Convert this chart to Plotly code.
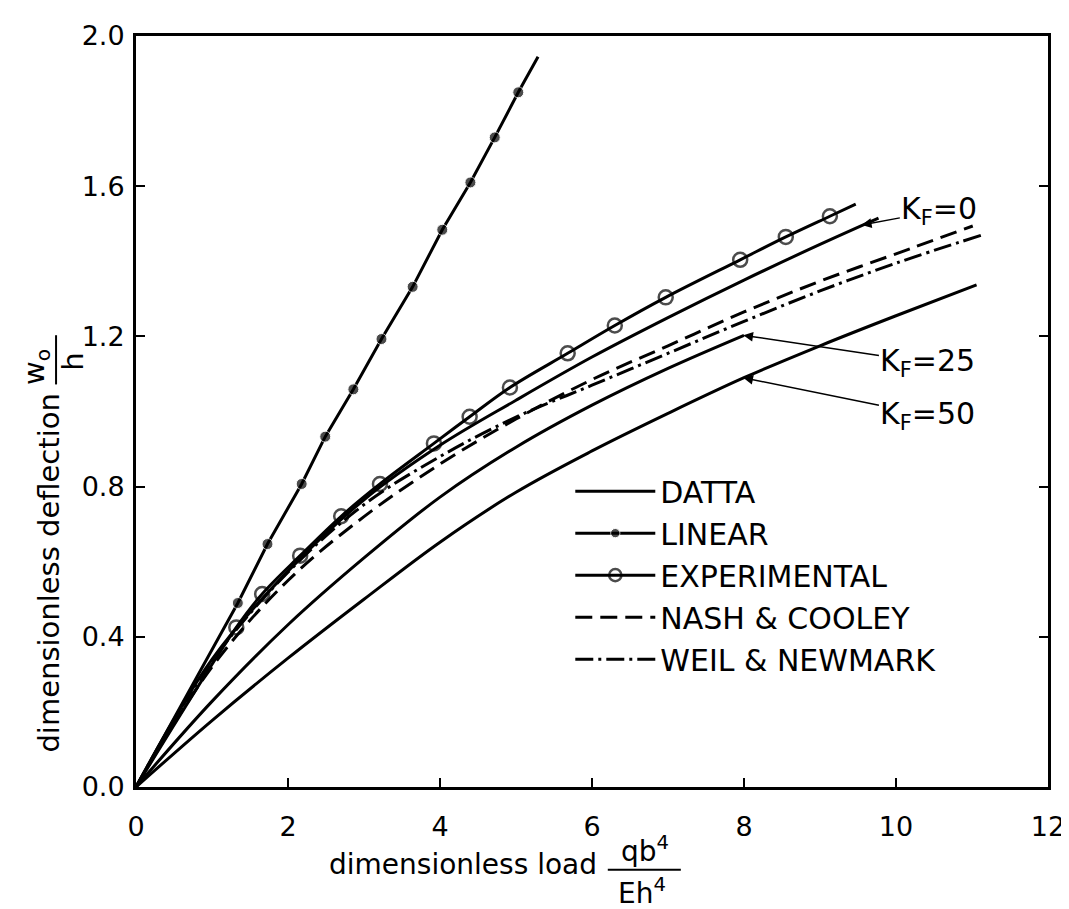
import plotly.graph_objects as go

# ---------------- data ----------------
x_ticks = [0, 2, 4, 6, 8, 10, 12]
y_ticks = [0.0, 0.4, 0.8, 1.2, 1.6, 2.0]

# LINEAR (filled dots) + line end points
lin_x = [1.34, 1.73, 2.18, 2.49, 2.86, 3.23, 3.64, 4.03, 4.40, 4.72, 5.03]
lin_y = [0.49, 0.647, 0.807, 0.933, 1.059, 1.193, 1.332, 1.484, 1.61, 1.73, 1.85]
lin_start = (0.0, 0.0)
lin_end = (5.29, 1.945)

# EXPERIMENTAL (open circles) + line end points
exp_x = [1.32, 1.66, 2.16, 2.70, 3.21, 3.92, 4.39, 4.92, 5.68, 6.30, 6.97, 7.95, 8.55, 9.13]
exp_y = [0.425, 0.514, 0.616, 0.721, 0.807, 0.915, 0.986, 1.064, 1.155, 1.229, 1.304, 1.404, 1.465, 1.52]
exp_start = (0.0, 0.0)
exp_end = (9.47, 1.552)

# DATTA, K_F = 0, 25, 50
d0_x = [0, 1, 2, 3, 4, 5, 6, 7, 8, 9, 9.77]
d0_y = [0, 0.34, 0.575, 0.765, 0.91, 1.03, 1.145, 1.25, 1.35, 1.445, 1.515]
d25_x = [0, 1, 2, 3, 4, 5, 6, 7, 8]
d25_y = [0, 0.228, 0.432, 0.61, 0.772, 0.905, 1.017, 1.115, 1.203]
d50_x = [0, 1, 2, 3, 4, 5, 6, 7, 8, 9, 10, 11.06]
d50_y = [0, 0.177, 0.343, 0.5, 0.652, 0.785, 0.895, 0.995, 1.09, 1.175, 1.255, 1.337]

# NASH & COOLEY (dashed)
nc_x = [0, 1, 2, 3, 4, 5, 6, 7, 8, 9, 10, 11.01]
nc_y = [0, 0.32, 0.55, 0.72, 0.86, 0.98, 1.085, 1.175, 1.265, 1.347, 1.42, 1.494]

# WEIL & NEWMARK (dash-dot)
wn_x = [0, 1, 2, 3, 4, 5, 6, 7, 8, 9, 10, 11.13]
wn_y = [0, 0.335, 0.572, 0.752, 0.88, 0.985, 1.07, 1.155, 1.24, 1.321, 1.395, 1.47]

# K_F labels: (text position) -> (arrow tip on curve)
kf_labels = ["K<sub>F</sub>=0", "K<sub>F</sub>=25", "K<sub>F</sub>=50"]
kf_text_x = [10.57, 10.42, 10.42]
kf_text_y = [1.535, 1.13, 0.99]
kf_tip_x = [9.55, 7.99, 7.99]
kf_tip_y = [1.497, 1.203, 1.090]

legend_names = ["DATTA", "LINEAR", "EXPERIMENTAL", "NASH &amp; COOLEY", "WEIL &amp; NEWMARK"]

# ---------------- figure ----------------
FONT = "DejaVu Sans"
BLACK = "#000000"
LW = 3
L, R, T, B = 128, 17, 16, 130
PW, PH = 1069 - L - R, 909 - T - B


def px(xp):
    return (xp - L) / PW


def py(yp):
    return (909 - B - yp) / PH


fig = go.Figure()

# DATTA curves
fig.add_trace(go.Scatter(x=d0_x, y=d0_y, mode="lines", name=legend_names[0],
                         line=dict(color=BLACK, width=LW, shape="spline")))
fig.add_trace(go.Scatter(x=d25_x, y=d25_y, mode="lines", showlegend=False,
                         line=dict(color=BLACK, width=LW, shape="spline")))
fig.add_trace(go.Scatter(x=d50_x, y=d50_y, mode="lines", showlegend=False,
                         line=dict(color=BLACK, width=LW, shape="spline")))

# LINEAR
lx = [lin_start[0]] + lin_x + [lin_end[0]]
ly = [lin_start[1]] + lin_y + [lin_end[1]]
lsz = [0] + [11] * len(lin_x) + [0]
fig.add_trace(go.Scatter(x=lx, y=ly, mode="lines+markers", name=legend_names[1],
                         line=dict(color=BLACK, width=LW),
                         marker=dict(symbol="circle", size=lsz, color=BLACK)))

# EXPERIMENTAL
ex = [exp_start[0]] + exp_x + [exp_end[0]]
ey = [exp_start[1]] + exp_y + [exp_end[1]]
esz = [0] + [14] * len(exp_x) + [0]
fig.add_trace(go.Scatter(x=ex, y=ey, mode="lines+markers", name=legend_names[2],
                         line=dict(color=BLACK, width=LW, shape="spline"),
                         marker=dict(symbol="circle-open", size=esz, color=BLACK,
                                     line=dict(width=2.5, color=BLACK))))

# NASH & COOLEY
fig.add_trace(go.Scatter(x=nc_x, y=nc_y, mode="lines", name=legend_names[3],
                         line=dict(color=BLACK, width=LW, shape="spline", dash="17px,8px")))

# WEIL & NEWMARK
fig.add_trace(go.Scatter(x=wn_x, y=wn_y, mode="lines", name=legend_names[4],
                         line=dict(color=BLACK, width=LW, shape="spline",
                                   dash="18px,5px,3px,5px")))

# K_F annotations
for t, tx, ty, ax_, ay_ in zip(kf_labels, kf_text_x, kf_text_y, kf_tip_x, kf_tip_y):
    fig.add_annotation(x=ax_, y=ay_, xref="x", yref="y", ax=tx, ay=ty,
                       axref="x", ayref="y", text=t, showarrow=True,
                       arrowhead=2, arrowsize=1.3, arrowwidth=1.5, arrowcolor=BLACK,
                       font=dict(family=FONT, size=30, color=BLACK))

# x-axis title with fraction
fig.add_annotation(xref="paper", yref="paper", x=px(322), y=py(858),
                   xanchor="left", yanchor="middle", showarrow=False,
                   text="dimensionless load", font=dict(family=FONT, size=28, color=BLACK))
fig.add_annotation(xref="paper", yref="paper", x=px(644), y=py(842),
                   xanchor="center", yanchor="middle", showarrow=False,
                   text="qb<sup>4</sup>", font=dict(family=FONT, size=28, color=BLACK))
fig.add_annotation(xref="paper", yref="paper", x=px(641), y=py(885),
                   xanchor="center", yanchor="middle", showarrow=False,
                   text="Eh<sup>4</sup>", font=dict(family=FONT, size=28, color=BLACK))
fig.add_shape(type="line", xref="paper", yref="paper",
              x0=px(606), x1=px(680), y0=py(863), y1=py(863),
              line=dict(color=BLACK, width=2))

# y-axis title with fraction
fig.add_annotation(xref="paper", yref="paper", x=px(40), y=py(562),
                   xanchor="center", yanchor="middle", showarrow=False, textangle=-90,
                   text="dimensionless deflection", font=dict(family=FONT, size=29, color=BLACK))
fig.add_annotation(xref="paper", yref="paper", x=px(26), y=py(352),
                   xanchor="center", yanchor="middle", showarrow=False, textangle=-90,
                   text="w<sub>o</sub>", font=dict(family=FONT, size=29, color=BLACK))
fig.add_annotation(xref="paper", yref="paper", x=px(64), y=py(347),
                   xanchor="center", yanchor="middle", showarrow=False, textangle=-90,
                   text="h", font=dict(family=FONT, size=29, color=BLACK))
fig.add_shape(type="line", xref="paper", yref="paper",
              x0=px(47), x1=px(47), y0=py(320), y1=py(370),
              line=dict(color=BLACK, width=2))

fig.update_layout(
    width=1069, height=909,
    margin=dict(l=L, r=R, t=T, b=B),
    paper_bgcolor="white", plot_bgcolor="white",
    font=dict(family=FONT, color=BLACK),
    showlegend=True,
    legend=dict(x=px(568), y=py(452), xanchor="left", yanchor="top",
                bgcolor="rgba(0,0,0,0)", borderwidth=0, itemwidth=80,
                traceorder="normal",
                font=dict(family=FONT, size=30, color=BLACK)),
)

fig.update_xaxes(range=[0, 12], tickvals=x_ticks, ticktext=[str(v) for v in x_ticks],
                 showgrid=False, zeroline=False, showline=True, linecolor=BLACK, linewidth=3,
                 mirror=True, ticks="inside", ticklen=9, tickwidth=2, tickcolor=BLACK,
                 ticklabelstandoff=14, ticklabeloverflow="allow",
                 tickfont=dict(family=FONT, size=27, color=BLACK))
fig.update_yaxes(range=[0, 2], tickvals=y_ticks, ticktext=["%.1f" % v for v in y_ticks],
                 showgrid=False, zeroline=False, showline=True, linecolor=BLACK, linewidth=3,
                 mirror="ticks", ticks="inside", ticklen=9, tickwidth=2, tickcolor=BLACK,
                 ticklabelstandoff=3, ticklabeloverflow="allow",
                 tickfont=dict(family=FONT, size=27, color=BLACK))

fig.write_html("out.html")
